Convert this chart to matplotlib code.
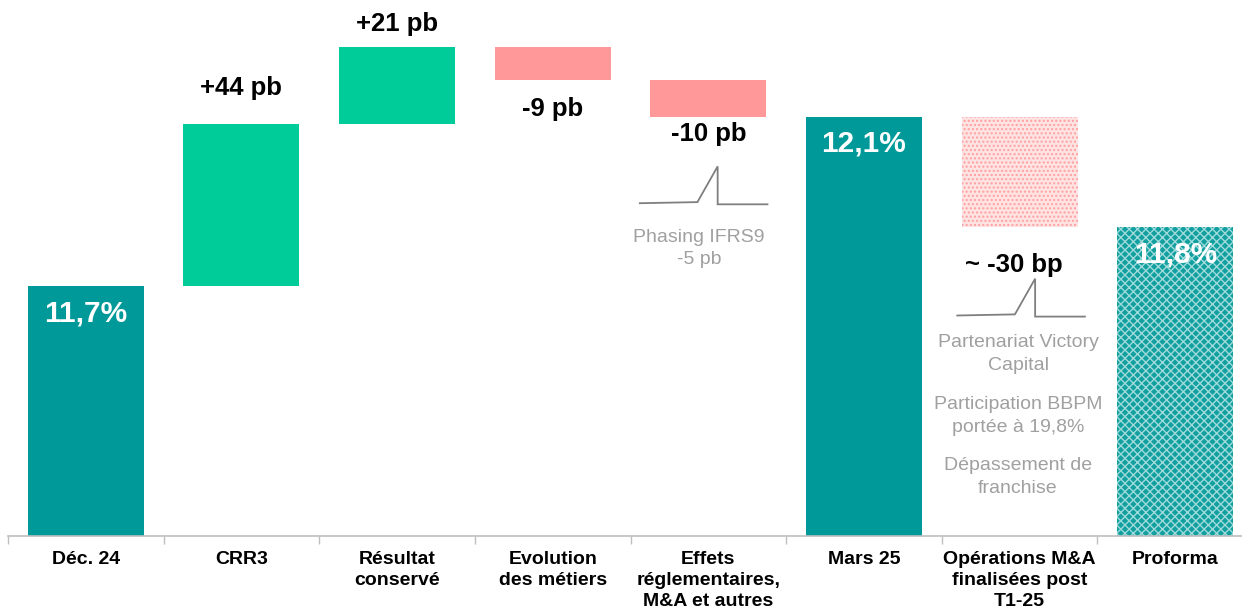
"""CET1 ratio bridge, Dec. 24 -> Mars 25 -> Proforma."""

import numpy as np
import matplotlib
matplotlib.use("Agg")
import matplotlib.pyplot as plt

plt.rcParams['font.family'] = ['Liberation Sans', 'DejaVu Sans']
plt.rcParams['hatch.linewidth'] = 1.0

# =============================================================================
# Data
categories = ["Déc. 24", "CRR3", "Résultat\nconservé", "Evolution\ndes métiers",
              "Effets\nréglementaires,\nM&A et autres", "Mars 25",
              "Opérations M&A\nfinalisées post\nT1-25", "Proforma"]
start_ratio = 11.7                      # %
steps_bp = [44, 21, -9, -10]            # pb
ma_ops_bp = -30                         # bp, pending M&A
step_labels = ["+44 pb", "+21 pb", "-9 pb", "-10 pb"]
total_labels = ["11,7%", "12,1%", "11,8%"]
ma_label = "~ -30 bp"
ifrs9_note = "Phasing IFRS9\n-5 pb"
ma_notes = ["Partenariat Victory\nCapital", "Participation BBPM\nportée à 19,8%",
            "Dépassement de\nfranchise"]

TEAL = "#009999"
GREEN = "#00cc99"
PINK = "#ff9999"
GREY = "#a0a0a0"

y_low, y_high = 11.021, 12.477

# =============================================================================
fig = plt.figure(figsize=(12.42, 6.09), dpi=100)
# the category grid runs a little past the right edge
ax = fig.add_axes([8 / 1242, 73 / 609, 1245 / 1242, 536 / 609])
ax.set_xlim(-0.5, 7.5)
ax.set_ylim(y_low, y_high)

x = np.arange(len(categories))
w = 0.745

# waterfall levels
levels = start_ratio + np.cumsum([0] + steps_bp) / 100.0
mars = levels[-1]
proforma = mars + ma_ops_bp / 100.0

# totals
ax.bar(x[0], start_ratio - y_low, bottom=y_low, width=w, color=TEAL)
ax.bar(x[5], mars - y_low, bottom=y_low, width=w, color=TEAL)
ax.bar(x[7], proforma - y_low, bottom=y_low, width=w, color="#119f9f",
       edgecolor="#9fdada", hatch="xxxx", linewidth=0)

# steps, label offsets in % units
label_dy = [0.098, 0.063, -0.078, -0.046]
for i, d in enumerate(steps_bp):
    lo = min(levels[i], levels[i + 1])
    ax.bar(x[i + 1], abs(d) / 100.0, bottom=lo, width=w,
           color=GREEN if d > 0 else PINK)
    ax.text(x[i + 1], levels[i + 1] + label_dy[i], step_labels[i],
            ha="center", va="center", fontsize=18.5, fontweight="bold")

# pending M&A, dotted
ax.bar(x[6], mars - proforma, bottom=proforma, width=w, color="#ffe3e3",
       edgecolor="#ff9f9f", hatch="....", linewidth=0)

# ratio labels inside the totals
for xi, top, lab in zip([x[0], x[5], x[7]], [start_ratio, mars, proforma],
                        total_labels):
    ax.text(xi, top - 0.074, lab, ha="center", va="center", color="white",
            fontsize=21.5, fontweight="bold")

ax.text(x[6] - 0.04, proforma - 0.102, ma_label, ha="center", va="center",
        fontsize=18.5, fontweight="bold")

# small profile icons
def profile(cx, base, ax=ax):
    px = cx + np.array([-0.44, -0.07, 0.06, 0.06, 0.38])
    py = base + np.array([0.0, 0.003, 0.10, -0.003, -0.003])
    ax.plot(px, py, color="#7f7f7f", lw=1.3, solid_joinstyle="miter")

profile(x[4], mars - 0.235)
profile(x[6] + 0.04, mars - 0.54)

ax.text(x[4] - 0.06, mars - 0.358, ifrs9_note, ha="center", va="center",
        color=GREY, fontsize=14, linespacing=1.45)
for k, note in enumerate(ma_notes):
    ax.text(x[6] - 0.01, mars - 0.645 - k * 0.167, note, ha="center",
            va="center", color=GREY, fontsize=14, linespacing=1.45)

# axis
for s in ["top", "right", "left"]:
    ax.spines[s].set_visible(False)
ax.spines["bottom"].set_color("#bfbfbf")
ax.spines["bottom"].set_linewidth(1.2)
ax.set_yticks([])
ax.set_xticks(np.arange(-0.5, 8, 1.0))
ax.set_xticklabels([])
ax.tick_params(axis="x", length=6, color="#bfbfbf", width=1.0)

for xi, c in zip(x, categories):
    ax.text(xi, -0.028, c, transform=ax.get_xaxis_transform(), ha="center",
            va="top", fontsize=14, fontweight="bold", linespacing=1.3)

fig.savefig("out.png", dpi=100)
